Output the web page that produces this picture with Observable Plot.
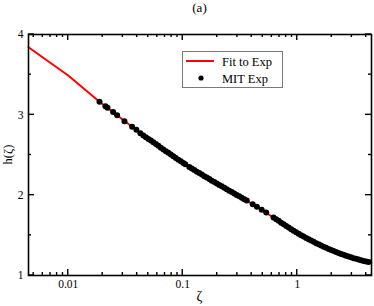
<!DOCTYPE html>
<html><head><meta charset="utf-8">
<script src="https://cdn.jsdelivr.net/npm/d3@7"></script>
<script src="https://cdn.jsdelivr.net/npm/@observablehq/plot@0.6"></script>
<style>
html,body{margin:0;padding:0;background:#fff}
#chart{width:374px;height:306px}
</style>
</head><body><div id="chart"></div>
<script>
// ---- data ----
const xTicks = [0.01, 0.1, 1];
const xTickLabels = ["0.01", "0.1", "1"];
const xMinorTicks = [0.005, 0.006, 0.007, 0.008, 0.009, 0.02, 0.03, 0.04, 0.05, 0.06, 0.07, 0.08, 0.09, 0.2, 0.3, 0.4, 0.5, 0.6, 0.7, 0.8, 0.9, 2, 3, 4];
const yTicks = [1, 2, 3, 4];
const yTickLabels = ["1", "2", "3", "4"];
const yMinorTicks = [1.5, 2.5, 3.5];

const fitZeta = [0.0045, 0.01, 0.01875, 0.0453, 0.1012, 0.2193, 0.3621, 0.6202, 0.9781, 1.616, 2.669, 4.194, 4.45];
const fitH    = [3.842, 3.49, 3.162, 2.743, 2.401, 2.111, 1.933, 1.722, 1.537, 1.373, 1.246, 1.167, 1.160];

const expZeta = [0.01875, 0.02113, 0.02203, 0.02467, 0.02673, 0.03097, 0.03614, 0.03938, 0.04266,
  0.04533, 0.04768, 0.05011, 0.05270, 0.05541, 0.05826, 0.06127, 0.06444, 0.06774, 0.07123, 0.07489,
  0.07873, 0.08279, 0.08705, 0.09154, 0.09625, 0.1012, 0.1053,
  0.1141, 0.1200, 0.1262, 0.1327, 0.1395, 0.1467, 0.1543, 0.1622, 0.1706, 0.1794, 0.1886, 0.1983,
  0.2085, 0.2193, 0.2306, 0.2424, 0.2549, 0.2680, 0.2818, 0.2963, 0.3115, 0.3276, 0.3444, 0.3621,
  0.4087, 0.4443, 0.4894, 0.5357,
  0.6202, 0.6547, 0.6884, 0.7238, 0.7610, 0.8002, 0.8414, 0.8847, 0.9302, 0.9781, 1.0285, 1.0814,
  1.137, 1.196, 1.257, 1.322, 1.390, 1.462, 1.537, 1.616, 1.699, 1.786, 1.878, 1.975, 2.077, 2.184,
  2.296, 2.414, 2.539, 2.669, 2.807, 2.951, 3.103, 3.263, 3.431, 3.607, 3.793, 3.988, 4.194];
const expH = [3.162, 3.106, 3.087, 3.034, 2.994, 2.919, 2.853, 2.814, 2.770,
  2.743, 2.722, 2.700, 2.680, 2.658, 2.636, 2.614, 2.591, 2.570, 2.548, 2.527,
  2.506, 2.483, 2.462, 2.441, 2.421, 2.401, 2.385,
  2.350, 2.332, 2.312, 2.293, 2.275, 2.256, 2.237, 2.219, 2.200, 2.181, 2.163, 2.145,
  2.128, 2.111, 2.092, 2.075, 2.056, 2.039, 2.020, 2.002, 1.985, 1.968, 1.950, 1.933,
  1.888, 1.856, 1.820, 1.785,
  1.722, 1.699, 1.680, 1.658, 1.637, 1.616, 1.596, 1.576, 1.557, 1.537, 1.519, 1.502,
  1.485, 1.467, 1.451, 1.435, 1.419, 1.403, 1.388, 1.373, 1.358, 1.344, 1.330, 1.317, 1.304, 1.292,
  1.280, 1.268, 1.257, 1.246, 1.236, 1.226, 1.216, 1.208, 1.199, 1.190, 1.181, 1.174, 1.167];

const seriesNames = ["Fit to Exp", "MIT Exp"];
const titleText = "(a)";
const xLabel = "ζ";
const yLabel = "h(ζ)";

// ---- build ----
const fit = fitZeta.map((z, i) => ({z, h: fitH[i]}));
const exp = expZeta.map((z, i) => ({z, h: expH[i]}));
const FONT = "'Liberation Serif', 'Times New Roman', serif";

const plot = Plot.plot({
  width: 374, height: 306,
  marginLeft: 28, marginRight: 3, marginTop: 34, marginBottom: 31,
  style: {fontFamily: FONT, fontSize: "11.5px", color: "black", background: "white", overflow: "visible"},
  x: {type: "log", domain: [0.0045, 4.45], ticks: xTicks, tickFormat: d => xTickLabels[xTicks.indexOf(d)], tickSize: 0, tickPadding: 4, label: null},
  y: {domain: [1, 4], ticks: yTicks, tickFormat: d => yTickLabels[yTicks.indexOf(d)], tickSize: 0, tickPadding: 5, label: null},
  marks: [
    Plot.line(fit, {x: "z", y: "h", stroke: "#ff0000", strokeWidth: 2}),
    Plot.dot(exp, {x: "z", y: "h", r: 3, fill: "black"}),
    Plot.frame({stroke: "black", strokeWidth: 1.6})
  ]
});
document.getElementById("chart").appendChild(plot);

const sx = plot.scale("x"), sy = plot.scale("y");
const svg = d3.select(plot);
const [x0, x1] = sx.range, [y0, y1] = sy.range; // y0 bottom, y1 top
const g = svg.append("g").attr("stroke", "black").attr("stroke-width", 1.4);
function vt(v, len) {
  const x = sx.apply(v);
  g.append("line").attr("x1", x).attr("x2", x).attr("y1", y0).attr("y2", y0 - len);
  g.append("line").attr("x1", x).attr("x2", x).attr("y1", y1).attr("y2", y1 + len);
}
function ht(v, len) {
  const y = sy.apply(v);
  g.append("line").attr("y1", y).attr("y2", y).attr("x1", x0).attr("x2", x0 + len);
  g.append("line").attr("y1", y).attr("y2", y).attr("x1", x1).attr("x2", x1 - len);
}
xTicks.forEach(v => vt(v, 6));
xMinorTicks.forEach(v => vt(v, 3));
yTicks.forEach(v => ht(v, 6));
yMinorTicks.forEach(v => ht(v, 3));

// title and axis labels
const cx = (x0 + x1) / 2, cy = (y0 + y1) / 2;
svg.append("text").text(titleText).attr("x", cx).attr("y", 12).attr("text-anchor", "middle")
  .attr("font-family", FONT).attr("font-size", 13).attr("fill", "black");
svg.append("text").text(xLabel).attr("x", cx).attr("y", 301).attr("text-anchor", "middle")
  .attr("font-family", FONT).attr("font-size", 14).attr("fill", "black");
svg.append("text").text(yLabel).attr("transform", `translate(12,${cy}) rotate(-90)`).attr("text-anchor", "middle")
  .attr("font-family", FONT).attr("font-size", 12.5).attr("fill", "black");

// legend
const lg = svg.append("g");
lg.append("rect").attr("x", 182.5).attr("y", 51.5).attr("width", 100).attr("height", 36)
  .style("fill", "#ffffff").style("stroke", "#7a7a7a").style("stroke-width", "1px");
lg.append("line").attr("x1", 186).attr("x2", 214).attr("y1", 61).attr("y2", 61).style("stroke", "#ff0000").style("stroke-width", "2px");
lg.append("circle").attr("cx", 201).attr("cy", 78).attr("r", 2.6).style("fill", "black");
lg.append("text").text(seriesNames[0]).attr("x", 222).attr("y", 65.5).attr("text-anchor", "start")
  .attr("font-family", FONT).attr("font-size", 12.5).attr("fill", "black");
lg.append("text").text(seriesNames[1]).attr("x", 222).attr("y", 82.5).attr("text-anchor", "start")
  .attr("font-family", FONT).attr("font-size", 12.5).attr("fill", "black");
</script>
</body></html>
